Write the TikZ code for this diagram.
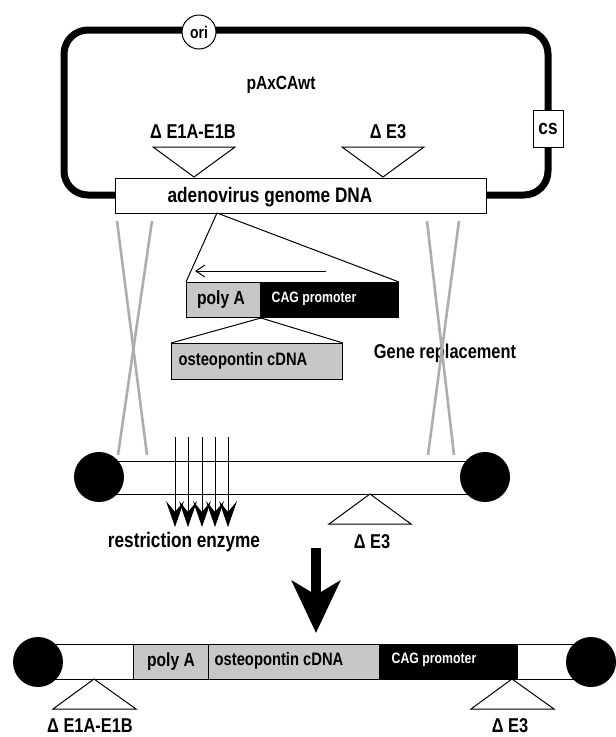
\documentclass[tikz,border=0pt]{standalone}
\usepackage{fontspec}
\setmainfont{Liberation Sans Bold}[FakeStretch=0.82]
\usetikzlibrary{arrows.meta}

\begin{document}
\begin{tikzpicture}[x=1pt,y=-1pt,line width=1pt,
  lbl/.style={inner sep=0pt,font=\fontsize{20}{22}\selectfont},
  seg/.style={draw,line width=1pt,inner sep=0pt,anchor=north west,minimum height=35pt},
  dots/.style={fill=black!22},
  tri/.style={draw,fill=white,line width=1pt},
  strand/.style={draw=black!32,line width=2.6pt},
  ball/.style={circle,fill=black,inner sep=0pt,minimum size=50pt}]
\useasboundingbox (0,0) rectangle (616,737);

% plasmid
\draw[line width=7pt,rounded corners=24pt] (64,30) rectangle (548,195);
\node[circle,draw,fill=white,minimum size=34pt,inner sep=0pt,font=\fontsize{17}{17}\selectfont] (ori) at (199,32) {ori};
\node[draw,fill=white,minimum width=30pt,minimum height=37pt,inner sep=0pt,font=\fontsize{21}{21}\selectfont] (cs) at (548,128.5) {cs};
\node[lbl,font=\fontsize{19}{21}\selectfont] (pax) at (281,85) {pAxCAwt};
\node[seg,fill=white,minimum width=371pt] (genome) at (115,178) {};
\node[lbl,font=\fontsize{21}{23}\selectfont] (genomelbl) at (270,197) {adenovirus genome DNA};
\node[lbl] (dE1top) at (193,132) {Δ E1A-E1B};
\node[lbl] (dE3top) at (388,132) {Δ E3};
\draw[tri] (153,147) -- (235,147) -- (194,177) -- cycle;
\draw[tri] (342,147) -- (424,147) -- (383,177) -- cycle;

% expression unit
\node[seg,dots,minimum width=74pt] (polyA) at (186,282) {};
\node[seg,fill=black,minimum width=138pt] (cag) at (260,282) {};
\node[lbl,font=\fontsize{19}{21}\selectfont] (polyAlbl) at (221,300) {poly A};
\node[lbl,text=white,font=\fontsize{15}{17}\selectfont] (caglbl) at (314,299) {CAG promoter};
\coordinate (gsrc) at (217,213);
\draw (gsrc) -- (polyA.north west);
\draw (gsrc) -- (cag.north east);
\draw[-{Straight Barb[length=9pt,width=12pt]}] (326,271) -- (195,271);
\node[seg,dots,minimum width=171pt,minimum height=36pt] (osteo) at (171,343) {};
\node[lbl,font=\fontsize{18}{20}\selectfont] (osteolbl) at (243,361) {osteopontin cDNA};
\draw (polyA.south east) -- (osteo.north west);
\draw (polyA.south east) -- (osteo.north east);
\node[lbl] (gene) at (445,353) {Gene replacement};

% crossing over
\draw[strand] (117,221) -- (147,455);
\draw[strand] (152,221) -- (118,455);
\draw[strand] (427,221) -- (454,455);
\draw[strand] (459,221) -- (428,455);

% adenovirus
\node[seg,fill=white,minimum width=386pt,minimum height=33pt] (mid) at (99,461) {};
\node[ball] (midL) at (99,477) {};
\node[ball] (midR) at (485,477) {};
\foreach \x in {175,188,202,215,228}
  \draw[-{Stealth[length=26pt,width=18pt,inset=11pt]}] (\x,437) -- (\x,527);
\draw[tri] (370,494) -- (411,524) -- (329,524) -- cycle;
\node[lbl,font=\fontsize{21}{23}\selectfont] (enzyme) at (184,542) {restriction enzyme};
\node[lbl] (dE3mid) at (372,542) {Δ E3};

\draw[line width=10pt,-{Stealth[length=52pt,width=48pt,inset=14pt]}] (316,548) -- (316,633);

% recombinant
\node[seg,fill=white,minimum width=95pt] (wL) at (38,644) {};
\node[seg,dots,minimum width=75pt,font=\fontsize{19}{21}\selectfont] (bpolyA) at (133,644) {poly A};
\node[seg,dots,minimum width=171pt] (bosteo) at (208,644) {};
\node[seg,fill=black,minimum width=138pt] (bcag) at (379,644) {};
\node[seg,fill=white,minimum width=74pt] (wR) at (517,644) {};
\node[lbl,font=\fontsize{18}{20}\selectfont] (bosteolbl) at (279,661) {osteopontin cDNA};
\node[lbl,text=white,font=\fontsize{15}{17}\selectfont] (bcaglbl) at (434,660) {CAG promoter};
\node[ball] (endL) at (38,662) {};
\node[ball] (endR) at (591,662) {};
\draw[tri] (94,679) -- (136,709) -- (53,709) -- cycle;
\draw[tri] (512,679) -- (554,709) -- (471,709) -- cycle;
\node[lbl] (dE1bot) at (90,726) {Δ E1A-E1B};
\node[lbl] (dE3bot) at (510,726) {Δ E3};
\end{tikzpicture}
\end{document}
